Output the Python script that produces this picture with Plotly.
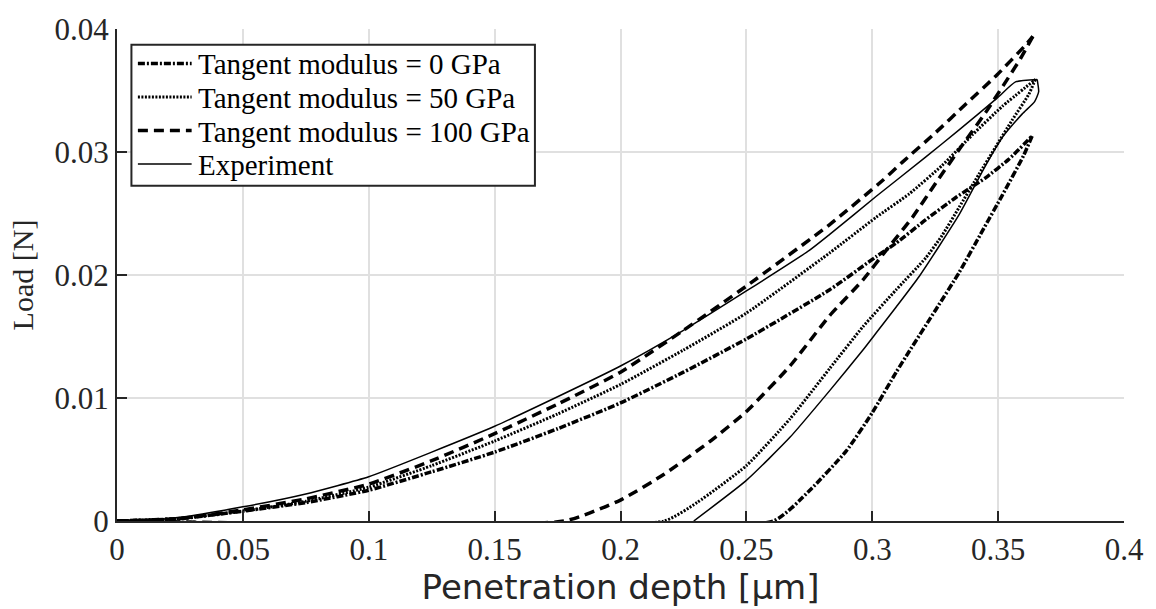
import plotly.graph_objects as go

# Penetration depth [um] and load [N] for each curve (loading branch, then unloading branch)
exp_load_depth = [0, 0.01, 0.025, 0.05, 0.075, 0.1, 0.125, 0.15, 0.175, 0.2, 0.225, 0.25, 0.275,
                  0.2831, 0.3016, 0.3213, 0.3345, 0.3497, 0.3569, 0.3655]
exp_load_force = [0, 0.00002, 0.0003, 0.00115, 0.0022, 0.0036, 0.0056, 0.0077, 0.0101, 0.0126, 0.0155,
                  0.0187, 0.0220, 0.0233, 0.0264, 0.0296, 0.0318, 0.0344, 0.0357, 0.0359]
exp_unload_depth = [0.3655, 0.3661, 0.3645, 0.3596, 0.3517, 0.345, 0.3345, 0.3187, 0.3095, 0.3016,
                    0.2963, 0.2831, 0.2673, 0.25, 0.2291]
exp_unload_force = [0.0359, 0.0349, 0.0341, 0.0331, 0.0312, 0.0289, 0.0249, 0.0199, 0.0174, 0.0153,
                    0.0139, 0.0106, 0.0068, 0.0033, 0.0]

e100_load_depth = [0, 0.025, 0.05, 0.075, 0.1, 0.125, 0.15, 0.175, 0.2, 0.225, 0.25, 0.2831, 0.3042,
                   0.3121, 0.3253, 0.3372, 0.3497, 0.3609, 0.3638]
e100_load_force = [0, 0.0002, 0.0009, 0.0018, 0.0030, 0.0049, 0.0071, 0.0095, 0.0121, 0.0155, 0.0191,
                   0.0241, 0.0277, 0.0292, 0.0316, 0.0339, 0.0363, 0.0387, 0.0394]
e100_unload_depth = [0.3638, 0.3589, 0.345, 0.3352, 0.3253, 0.3160, 0.3055, 0.2963, 0.2831, 0.2673,
                     0.25, 0.2357, 0.2173, 0.2, 0.1777, 0.0]
e100_unload_force = [0.0394, 0.0376, 0.0332, 0.0304, 0.0275, 0.0247, 0.0220, 0.0196, 0.0167, 0.0126,
                     0.0089, 0.0065, 0.0038, 0.0017, 0.0, 0.0]

e50_load_depth = [0, 0.025, 0.05, 0.075, 0.1, 0.125, 0.15, 0.175, 0.2, 0.225, 0.25, 0.2831, 0.3016,
                  0.3147, 0.3277, 0.3398, 0.3516, 0.3648]
e50_load_force = [0, 0.0002, 0.0008, 0.0016, 0.00275, 0.0045, 0.0065, 0.0087, 0.0111, 0.0139, 0.0169,
                  0.0218, 0.0247, 0.0266, 0.0289, 0.0314, 0.0337, 0.0359]
e50_unload_depth = [0.3648, 0.3622, 0.3556, 0.349, 0.3424, 0.3345, 0.3277, 0.3213, 0.3095, 0.2963,
                    0.2831, 0.2673, 0.25, 0.2304, 0.2173, 0.0]
e50_unload_force = [0.0359, 0.0347, 0.0326, 0.0304, 0.0282, 0.0255, 0.0232, 0.0214, 0.0188, 0.0158,
                    0.0124, 0.0083, 0.0045, 0.0015, 0.0, 0.0]

e0_load_depth = [0, 0.025, 0.05, 0.075, 0.1, 0.125, 0.15, 0.175, 0.2, 0.225, 0.25, 0.2831, 0.3016,
                 0.3095, 0.3213, 0.3332, 0.345, 0.3542, 0.3635]
e0_load_force = [0, 0.0002, 0.0008, 0.0015, 0.0025, 0.0040, 0.0056, 0.0075, 0.0096, 0.0121, 0.0148,
                 0.0188, 0.0215, 0.0226, 0.0245, 0.0263, 0.0279, 0.0294, 0.0313]
e0_unload_depth = [0.3635, 0.3601, 0.3517, 0.3438, 0.3345, 0.3253, 0.3147, 0.3095, 0.3, 0.2897,
                   0.2752, 0.2607, 0.0]
e0_unload_force = [0.0313, 0.0297, 0.0265, 0.0236, 0.0202, 0.0172, 0.0138, 0.0121, 0.0088, 0.0057,
                   0.0025, 0.0, 0.0]

x_ticks = [0, 0.05, 0.1, 0.15, 0.2, 0.25, 0.3, 0.35, 0.4]
x_tick_labels = ["0", "0.05", "0.1", "0.15", "0.2", "0.25", "0.3", "0.35", "0.4"]
y_ticks = [0, 0.01, 0.02, 0.03, 0.04]
y_tick_labels = ["0", "0.01", "0.02", "0.03", "0.04"]

INK = "#262626"
SERIF = "Liberation Serif, Times New Roman, serif"

W, H = 1156, 609
M_L, M_R, M_T, M_B = 117, 27, 22, 88
PLOT_W = W - M_L - M_R
PLOT_H = H - M_T - M_B


def px_x(px):
    """Horizontal pixel position -> paper fraction of the plot area."""
    return (px - M_L) / PLOT_W


def px_y(py):
    """Vertical pixel position (from top) -> paper fraction of the plot area."""
    return (H - M_B - py) / PLOT_H


series = [
    ("Tangent modulus = 0 GPa",
     (e0_load_depth, e0_load_force), (e0_unload_depth, e0_unload_force),
     dict(color="black", width=3.5, dash="7px,2px,2px,2px")),
    ("Tangent modulus = 50 GPa",
     (e50_load_depth, e50_load_force), (e50_unload_depth, e50_unload_force),
     dict(color="black", width=3, dash="2px,1.5px")),
    ("Tangent modulus = 100 GPa",
     (e100_load_depth, e100_load_force), (e100_unload_depth, e100_unload_force),
     dict(color="black", width=3.5, dash="10px,6px")),
    ("Experiment",
     (exp_load_depth, exp_load_force), (exp_unload_depth, exp_unload_force),
     dict(color="black", width=1.5)),
]

fig = go.Figure()
for name, loading, unloading, line in series:
    for xs, ys in (loading, unloading):
        fig.add_trace(go.Scatter(x=xs, y=ys, mode="lines", name=name, showlegend=False,
                                 line=dict(line, shape="spline", smoothing=0.5)))

axis_common = dict(
    showline=True, linecolor=INK, linewidth=2,
    ticks="inside", ticklen=10, tickwidth=2, tickcolor=INK,
    showgrid=True, gridcolor="#e0e0e0", gridwidth=2,
    zeroline=False, mirror=False,
    tickfont=dict(family=SERIF, size=31, color=INK),
)

fig.update_xaxes(range=[0, 0.4], tickmode="array", tickvals=x_ticks, ticktext=x_tick_labels,
                 title=dict(text="Penetration depth [μm]", standoff=4,
                            font=dict(family="DejaVu Sans", size=34, color=INK)),
                 **axis_common)
fig.update_yaxes(range=[0, 0.04], tickmode="array", tickvals=y_ticks, ticktext=y_tick_labels,
                 title=dict(text="Load [N]", standoff=12,
                            font=dict(family=SERIF, size=30, color=INK)),
                 **axis_common)

# Boxed legend in the upper-left corner: frame, line samples and labels
box_left, box_right, box_top, box_bottom = 131.5, 537, 38, 181
row_centers = [57, 91, 125, 159]
sample_x0, sample_x1, text_x = 138, 192, 196

shapes = [dict(type="rect", xref="paper", yref="paper", layer="above",
               x0=px_x(box_left), x1=px_x(box_right), y0=px_y(box_bottom), y1=px_y(box_top),
               fillcolor="white", line=dict(color=INK, width=2))]
annotations = []
for (name, _, _, line), yc in zip(series, row_centers):
    shapes.append(dict(type="line", xref="paper", yref="paper", layer="above",
                       x0=px_x(sample_x0), x1=px_x(sample_x1), y0=px_y(yc), y1=px_y(yc),
                       line=dict(color=line["color"], width=line["width"],
                                 dash=line.get("dash", "solid"))))
    annotations.append(dict(xref="paper", yref="paper", x=px_x(text_x), y=px_y(yc + 1),
                            xanchor="left", yanchor="middle", showarrow=False, text=name,
                            font=dict(family=SERIF, size=29, color="black")))

fig.update_layout(
    width=W, height=H,
    margin=dict(l=M_L, r=M_R, t=M_T, b=M_B),
    paper_bgcolor="white", plot_bgcolor="white",
    showlegend=False,
    shapes=shapes,
    annotations=annotations,
)

fig.write_html("out.html")
